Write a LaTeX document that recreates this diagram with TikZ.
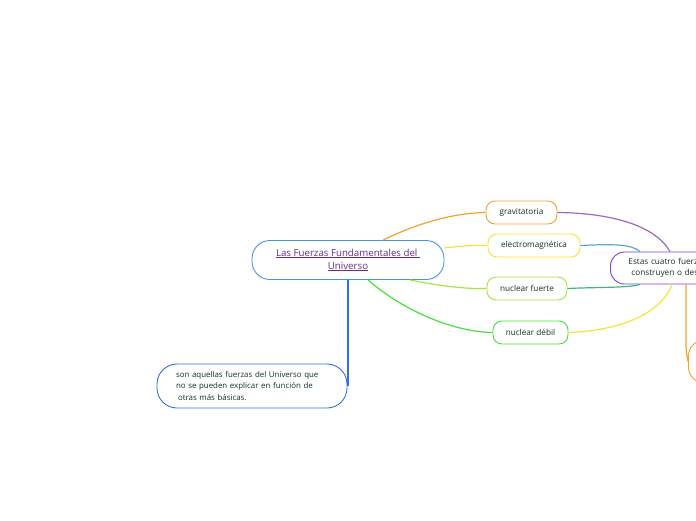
\documentclass[tikz,border=0pt]{standalone}
\usepackage{fontspec}
\setmainfont{Open Sans}
\usepackage{xcolor}
\usetikzlibrary{calc}
\definecolor{txtgreen}{HTML}{123326}
\definecolor{titlepurple}{HTML}{6A2C8C}
\definecolor{mainblue}{HTML}{4A94DE}
\definecolor{defblue}{HTML}{2F6FE8}
\definecolor{mmorange}{HTML}{F7A030}
\definecolor{mmyellow}{HTML}{F2E632}
\definecolor{mmlime}{HTML}{A6E640}
\definecolor{mmgreen}{HTML}{46E03C}
\definecolor{mmpurple}{HTML}{9B6BB8}
\definecolor{mmviolet}{HTML}{7A3FF0}
\definecolor{mmsky}{HTML}{5AA6D6}
\definecolor{mmteal}{HTML}{3CB878}

\tikzset{
  topic/.style={draw, fill=white, line width=0.9pt, text=txtgreen,
    font=\fontsize{8.2}{10}\selectfont, rounded corners=9pt,
    minimum height=23pt, inner sep=0pt},
  link/.style={line width=1.2pt}
}

\begin{document}
\begin{tikzpicture}[x=1pt, y=-1pt]
  \useasboundingbox (0,0) rectangle (696,520);
  \clip (0,0) rectangle (696,520);
  % central idea
  \node[draw=mainblue, fill=white, line width=0.9pt, rounded corners=18pt,
    minimum width=192pt, minimum height=39pt, align=center,
    text=titlepurple, font=\fontsize{9.7}{13}\selectfont]
    (main) at (348,260)
    {\underline{Las Fuerzas Fundamentales del\ }\\\underline{Universo}};
  % the four forces
  \node[topic, draw=mmorange, minimum width=71pt] (grav) at (521.5,212.5) {gravitatoria};
  \node[topic, draw=mmyellow, minimum width=92pt] (elec) at (534,245.5) {electromagnética};
  \node[topic, draw=mmlime, minimum width=80pt] (fuerte) at (527,288.5) {nuclear fuerte};
  \node[topic, draw=mmgreen, minimum width=75pt] (debil) at (530.5,332.5) {nuclear débil};
  % right-hand idea (runs off the page)
  \node[draw=mmviolet, fill=white, line width=0.9pt, rounded corners=14pt,
    anchor=west, minimum height=32pt, text width=140pt, align=left,
    inner xsep=18pt, text=txtgreen, font=\fontsize{8.2}{11.5}\selectfont]
    (destr) at (610,268)
    {Estas cuatro fuerzas\\\hspace*{3pt}construyen o destruyen};
  \node[draw=mmorange, fill=white, line width=0.9pt, rounded corners=16pt,
    anchor=west, minimum width=80pt, minimum height=43pt] (extra) at (688,361.5) {};
  % definition
  \node[draw=defblue, fill=white, line width=0.9pt, rounded corners=20pt,
    minimum width=190pt, minimum height=44pt, text width=152pt,
    inner xsep=19pt, align=left, text=txtgreen,
    font=\fontsize{7.9}{11.5}\selectfont]
    (defin) at (252,386)
    {son aquellas fuerzas del Universo que\\
     no se pueden explicar en función de\\
     \hspace*{2pt}otras más básicas.};

  % links from the central idea
  \draw[link, mmorange] ($(main.north)+(35,0)$) .. controls (420,222) and (455,213) .. (grav.west);
  \draw[link, mmyellow] ($(main.east)+(0,-12)$) .. controls (462,246) and (472,245) .. (elec.west);
  \draw[link, mmlime] ($(main.south)+(62,0)$) .. controls (440,286) and (465,289) .. (fuerte.west);
  \draw[link, mmgreen] ($(main.south)+(20,0)$) .. controls (405,312) and (455,332) .. (debil.west);
  \draw[line width=1.5pt, defblue] (main.south) -- (main.south |- defin.east);
  % links into the right-hand idea
  \draw[link, mmpurple] (grav.east) .. controls (610,213) and (655,225) .. ($(destr.north west)+(60,0)$);
  \draw[link, mmsky] (elec.east) .. controls (612,244) and (632,244) .. ($(destr.north west)+(30,0)$);
  \draw[link, mmteal] (fuerte.east) .. controls (600,287) and (628,288) .. ($(destr.south west)+(30,0)$);
  \draw[link, mmyellow] (debil.east) .. controls (635,330) and (665,305) .. ($(destr.south west)+(62,0)$);
  \draw[link, mmorange] ($(destr.south west)+(76,0)$) -- (686,342) .. controls (686,350) .. (extra.west);
\end{tikzpicture}
\end{document}
